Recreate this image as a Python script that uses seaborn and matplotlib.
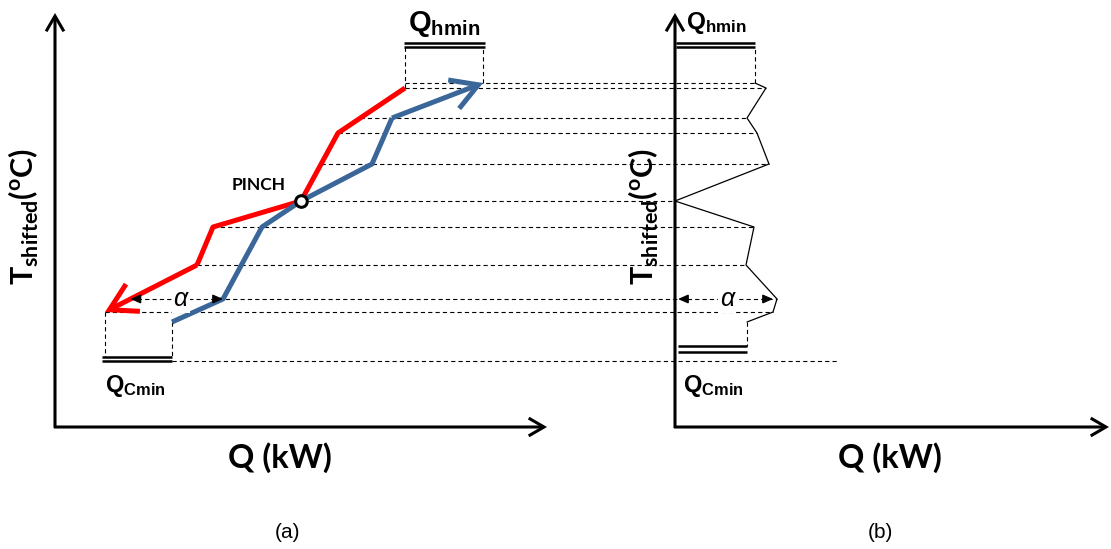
import numpy as np
import pandas as pd
import matplotlib
matplotlib.use("Agg")
import matplotlib.pyplot as plt
from matplotlib.patches import FancyArrowPatch
import seaborn as sns

sns.set_theme(style="white")
plt.rcParams.update({
    "font.family": ["Lato", "DejaVu Sans"],
    "text.color": "black",
    "mathtext.fontset": "custom",
    "mathtext.rm": "Lato",
    "mathtext.bf": "Lato:bold",
    "mathtext.sf": "Liberation Sans:bold",
    "mathtext.it": "Liberation Sans:italic",
})

# ---- data (Q in kW, T shifted) ----
# hot composite curve, from hot end down to cold end
hot_Q = [350, 283, 246, 158, 142, 50]
hot_T = [339, 294, 226, 200, 162, 115]
# cold composite curve, from cold end up to hot end
cold_Q = [117, 168, 207, 246, 317, 337, 428]
cold_T = [105, 128, 200, 226, 263, 309, 344]
# grand composite curve, from top to bottom
gcc_Q = [80, 91, 72, 82, 94, 0, 79, 71, 102, 98, 72]
gcc_T = [344, 339, 309, 294, 263, 226, 200, 162, 128, 115, 105]
# temperature interval boundaries
levels = [344, 339, 309, 294, 263, 226, 200, 162, 128, 115]
pinch_Q, pinch_T = 246, 226
alpha_T = 128
# utility bars
qh_T = [384, 380]
qc_T_a = [70, 66]
qc_T_b = [81, 75]
base_T = 66

# ---- layout ----
OB = 620          # horizontal offset of panel (b)
Y_TOP = 414       # top of vertical axes
X_END_A = 492     # end of Q axis, panel (a)
X_END_B = 434     # end of Q axis, panel (b)
BASE_END_B = 162  # end of lowest guide line in panel (b)

RED = "#FF0000"
BLUE = "#3A6699"
DASH = dict(color="black", lw=0.8, ls=(0, (3.8, 2.8)), zorder=1)

fig = plt.figure(figsize=(11.11, 5.49), dpi=100)
ax = fig.add_axes([0, 0, 1, 1])
ax.set_xlim(-55, 1056)
ax.set_ylim(-122, 427)
ax.axis("off")


def arrow(p0, p1, style, lw, color, ms, z=3, **kw):
    a = FancyArrowPatch(p0, p1, arrowstyle=style, mutation_scale=ms, lw=lw,
                        color=color, shrinkA=0, shrinkB=0, zorder=z,
                        joinstyle="miter", capstyle="butt", **kw)
    ax.add_patch(a)


# axes with arrow tips
ax_style = "->,head_length=0.55,head_width=0.32"
for x0, xend in [(0, X_END_A), (OB, OB + X_END_B)]:
    arrow((x0, -1), (x0, Y_TOP), ax_style, 2.2, "black", 20, z=5)
    arrow((x0 - 1, 0), (xend, 0), ax_style, 2.2, "black", 20, z=5)

# interval guide lines from hot curve to grand composite curve
hq_T = hot_T[::-1]
hq_Q = hot_Q[::-1]
g_T = gcc_T[::-1]
g_Q = gcc_Q[::-1]
for T in levels:
    x0 = np.interp(T, hq_T, hq_Q)
    x1 = OB + np.interp(T, g_T, g_Q)
    ax.plot([x0, x1], [T, T], **DASH)
ax.plot([cold_Q[0], OB + BASE_END_B], [base_T, base_T], **DASH)

# utility boxes, panel (a)
ax.plot([hot_Q[0], hot_Q[0]], [hot_T[0], qh_T[1]], **DASH)
ax.plot([cold_Q[-1], cold_Q[-1]], [cold_T[-1], qh_T[1]], **DASH)
for T in qh_T:
    ax.plot([hot_Q[0] - 1, cold_Q[-1] + 2], [T, T], color="black", lw=1.8,
            solid_capstyle="butt", zorder=2)
ax.plot([hot_Q[-1], hot_Q[-1]], [hot_T[-1], qc_T_a[0]], **DASH)
ax.plot([cold_Q[0], cold_Q[0]], [cold_T[0], qc_T_a[0]], **DASH)
for T in qc_T_a:
    ax.plot([hot_Q[-1] - 3, cold_Q[0]], [T, T], color="black", lw=1.8,
            solid_capstyle="butt", zorder=2)

# utility bars, panel (b)
ax.plot([OB + gcc_Q[0]] * 2, [gcc_T[0], qh_T[1]], **DASH)
for T in qh_T:
    ax.plot([OB + 1, OB + gcc_Q[0]], [T, T], color="black", lw=1.8,
            solid_capstyle="butt", zorder=2)
ax.plot([OB + gcc_Q[-1]] * 2, [gcc_T[-1], qc_T_b[0]], **DASH)
for T in qc_T_b:
    ax.plot([OB + 3, OB + gcc_Q[-1]], [T, T], color="black", lw=1.8,
            solid_capstyle="butt", zorder=2)

# composite curves
hot = pd.DataFrame({"Q": hot_Q, "T": hot_T})
cold = pd.DataFrame({"Q": cold_Q, "T": cold_T})
sns.lineplot(data=hot.iloc[:-1], x="Q", y="T", sort=False, estimator=None,
             color=RED, lw=3.6, ax=ax, zorder=3, solid_capstyle="butt")
sns.lineplot(data=cold.iloc[:-1], x="Q", y="T", sort=False, estimator=None,
             color=BLUE, lw=3.6, ax=ax, zorder=3, solid_capstyle="butt")
curve_style = "->,head_length=0.95,head_width=0.55"
arrow((hot_Q[-2], hot_T[-2]), (hot_Q[-1], hot_T[-1]), curve_style, 3.6, RED, 20)
arrow((cold_Q[-2], cold_T[-2]), (cold_Q[-1], cold_T[-1]), curve_style, 3.6, BLUE, 20)

# pinch point
ax.scatter([pinch_Q], [pinch_T], s=70, facecolor="white", edgecolor="black",
           linewidth=2.2, zorder=6)
ax.text(pinch_Q - 69, pinch_T + 11, "PINCH", fontsize=12.5, fontweight="bold",
        ha="left", va="baseline", zorder=6)

# grand composite curve
gcc = pd.DataFrame({"Q": np.array(gcc_Q) + OB, "T": gcc_T})
sns.lineplot(data=gcc, x="Q", y="T", sort=False, estimator=None,
             color="black", lw=0.9, ax=ax, zorder=3)

# minimum approach markers
small = "-|>,head_length=0.8,head_width=0.35"
a_left = np.interp(alpha_T, hq_T, hq_Q)
a_right = np.interp(alpha_T, cold_T, cold_Q)
b_right = OB + np.interp(alpha_T, g_T, g_Q) - 4
for tip, d in [(a_left, 1), (a_right, -1), (OB + 3, 1), (b_right, -1)]:
    arrow((tip + 10 * d, alpha_T), (tip, alpha_T), small, 0.8, "black", 8, z=4)
for xc in [(a_left + a_right) / 2 + 4, OB + 52]:
    ax.text(xc, alpha_T, "α", fontsize=18, fontstyle="italic",
            family="Liberation Sans", ha="center", va="center", zorder=4,
            bbox=dict(facecolor="white", edgecolor="none", pad=1.5))

# utility labels
ax.text(353, 396, r"$\mathsf{Q}_{\mathsf{hmin}}$", fontsize=21,
        ha="left", va="baseline")
ax.text(OB + 11, 398, r"$\mathsf{Q}_{\mathsf{hmin}}$", fontsize=17.5,
        ha="left", va="baseline")
for x, y in [(50, 35), (OB + 8, 35)]:
    ax.text(x, y, r"$\mathsf{Q}_{\mathsf{Cmin}}$", fontsize=17,
            ha="left", va="baseline")

# axis titles
ylab = r"$\mathbf{T}_{\mathbf{shifted}}\mathbf{(}^{\mathbf{o}}\mathbf{C)}$"
for x in [-31, OB - 31]:
    ax.text(x, 210, ylab, fontsize=22, rotation=90, ha="center", va="center")
for x in [225, OB + 215]:
    ax.text(x, -41, "Q (kW)", fontsize=23.5, fontweight="bold",
            ha="center", va="baseline")
for x, s in [(232, "(a)"), (OB + 205, "(b)")]:
    ax.text(x, -111, s, fontsize=15, family="Liberation Sans",
            ha="center", va="baseline")

fig.savefig("out.png", dpi=100)
